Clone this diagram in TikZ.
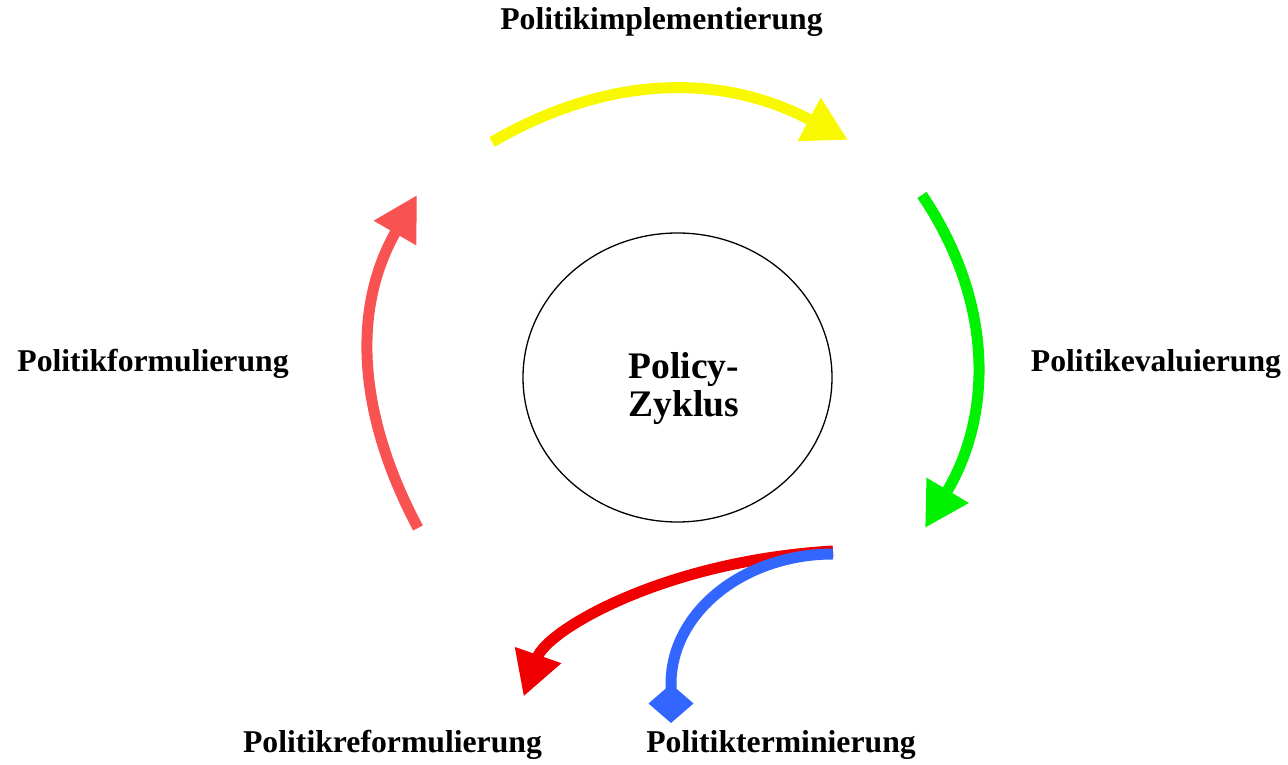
\documentclass[tikz,border=0pt]{standalone}
\usepackage{fontspec}
\setmainfont{Liberation Serif}
\usetikzlibrary{arrows.meta,shapes.geometric,positioning}
\definecolor{pyellow}{RGB}{248,248,0}
\definecolor{pgreen}{RGB}{0,242,0}
\definecolor{psalmon}{RGB}{248,82,82}
\definecolor{pred}{RGB}{240,0,0}
\definecolor{pblue}{RGB}{51,102,255}
\tikzset{%
	hub/.style   = {draw, ellipse, line width=1.3pt, minimum width=309pt, minimum height=289pt, inner sep=0pt},
	title/.style = {font=\fontsize{37.5}{38}\selectfont\bfseries, align=center, inner sep=0pt},
	phase/.style = {font=\fontsize{31.7}{38}\selectfont\bfseries, anchor=base, inner sep=0pt},
	flow/.style  = {line width=11pt, -{Triangle[length=44pt,width=46pt]}},
	stop/.style  = {line width=11pt, -{Diamond[length=39pt,width=45pt]}},
}

\begin{document}
\begin{tikzpicture}[x=1pt,y=1pt]
	\useasboundingbox (0,0) rectangle (1288,765);
	\node [hub] (hub) at (677.5,387.5) {};
	\node [title] (zyklus) at (684,376) {Policy-\\Zyklus};
	
	\node [phase] (impl) at (661.5,735) {Politikimplementierung};
	\node [phase] (eval) at (1156,393) {Politikevaluierung};
	\node [phase] (form) at (153,393) {Politikformulierung};
	\node [phase] (reform) at (392.5,12) {Politikreformulierung};
	\node [phase] (term) at (781,12) {Politikterminierung};
	
	% ends of the arrows
	\coordinate (impl0) at (492,623);
	\coordinate (impl1) at (848,625);
	\coordinate (eval0) at (922,570);
	\coordinate (eval1) at (925,237);
	\coordinate (form0) at (418,237);
	\coordinate (form1) at (417,570);
	\coordinate (reform0) at (833,214);
	\coordinate (reform1) at (523.6,68.4);
	\coordinate (term0) at (833,211);
	\coordinate (term1) at (671,81);
	\coordinate (term2) at (671,42);
	
	\draw [flow, pyellow] (impl0) to[out=30,in=152] (impl1);
	\draw [flow, pgreen] (eval0) to[out=-56,in=59] (eval1);
	\draw [flow, psalmon] (form0) to[out=118,in=-120] (form1);
	\draw [flow, pred] (reform0) .. controls +(-170,-10) and +(23,66) .. (reform1);
	\draw [stop, pblue] (term0) .. controls +(-89,0) and +(0,72) .. (term1) -- (term2);
\end{tikzpicture}
\end{document}
